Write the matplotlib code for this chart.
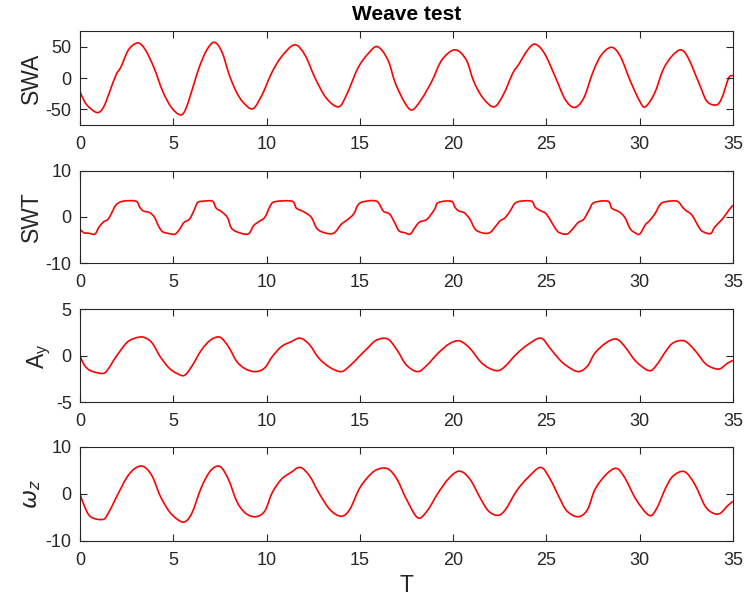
import matplotlib
matplotlib.use("Agg")
import matplotlib.pyplot as plt
import numpy as np
from matplotlib.path import Path
from matplotlib.patches import PathPatch

plt.rcParams["font.family"] = ["Liberation Sans", "DejaVu Sans"]
plt.rcParams["axes.unicode_minus"] = False

# SWA, steering wheel angle
t_swa = [0, 0.34, 0.9, 1.25, 1.6, 1.93, 2.2, 2.6, 3.1, 3.5, 3.97, 4.43, 4.9, 5.4, 5.7,
         6.1, 6.4, 6.8, 7.2, 7.6, 8.0, 8.36, 8.75, 9.27, 9.77, 10.27, 10.8, 11.5, 12.05,
         12.6, 13.2, 13.86, 14.3, 14.9, 15.45, 15.95, 16.5, 16.9, 17.4, 17.8, 18.3, 18.86,
         19.4, 20.1, 20.7, 21.1, 21.6, 22.2, 22.7, 23.2, 23.5, 24.0, 24.4, 24.9, 25.5,
         26.0, 26.5, 27.0, 27.5, 27.95, 28.5, 28.97, 29.5, 30.0, 30.3, 30.8, 31.25, 31.7,
         32.2, 32.6, 33.2, 33.6, 34.1, 34.4, 34.77, 35.0]
swa = [-22, -42, -55, -47, -21, 5, 18, 45, 56, 45, 16, -21, -47, -59, -47,
       -10, 18, 45, 57, 42, 5, -21, -39, -49, -26, 8, 34, 53, 37,
       0, -32, -46, -26, 16, 39, 50, 29, -8, -39, -51, -34, -5,
       29, 45, 29, -5, -32, -46, -26, 8, 21, 45, 54, 39, 0,
       -34, -47, -32, 10, 37, 49, 34, -5, -37, -46, -24, 13, 34,
       45, 32, -10, -37, -43, -32, 0, 4]

# SWT, steering wheel torque
t_swt = [0, 0.2, 0.45, 0.8, 1.0, 1.25, 1.5, 1.7, 1.93, 2.3, 3.0, 3.2, 3.4, 3.75, 4.0,
         4.2, 4.43, 4.8, 5.1, 5.35, 5.57, 5.86, 6.1, 6.3, 6.6, 7.1, 7.3, 7.6, 7.9,
         8.1, 8.4, 9.0, 9.3, 9.55, 9.9, 10.2, 10.45, 11.36, 11.6, 12.0, 12.4, 12.7,
         13.1, 13.6, 14.0, 14.3, 14.66, 14.9, 15.2, 15.9, 16.25, 16.6, 16.86, 17.1,
         17.4, 17.7, 17.95, 18.2, 18.6, 19.0, 19.2, 19.9, 20.1, 20.3, 20.6, 20.9,
         21.25, 21.9, 22.3, 22.5, 22.8, 23.1, 23.3, 23.6, 24.2, 24.4, 24.7, 25.0,
         25.5, 25.7, 26.1, 26.4, 26.7, 27.0, 27.3, 27.55, 28.3, 28.5, 28.9, 29.2,
         29.5, 29.75, 30.0, 30.3, 30.5, 30.8, 31.1, 31.4, 32.0, 32.3, 32.5, 32.8,
         33.2, 33.4, 33.8, 34.0, 34.3, 34.5, 34.8, 35.0]
swt = [-2.6, -3.4, -3.5, -3.7, -2.3, -1.1, -0.5, 0.9, 2.6, 3.4, 3.4, 2.1, 1.3, 0.9, -0.1,
       -1.9, -3.2, -3.6, -3.7, -2.6, -1.2, -0.5, 1.3, 3.1, 3.4, 3.4, 1.9, 1.1, -0.1,
       -2.3, -3.2, -3.7, -1.9, -1.1, -0.1, 2.4, 3.3, 3.4, 1.9, 1.1, -0.1, -2.5,
       -3.4, -3.5, -1.6, -0.7, 0.6, 2.6, 3.3, 3.4, 1.3, 0.6, -1.2, -3.0,
       -3.4, -3.7, -2.3, -1.1, -0.5, 1.6, 3.1, 3.4, 2.1, 1.3, 0.9, -0.5,
       -2.9, -3.5, -1.9, -0.9, -0.1, 1.6, 2.9, 3.4, 3.4, 2.1, 1.3, 0.6,
       -2.6, -3.4, -3.7, -2.6, -1.2, -0.5, 1.6, 3.1, 3.4, 1.9, 1.1, -0.1,
       -2.6, -3.4, -3.7, -1.7, -0.9, 0.6, 2.7, 3.3, 3.4, 2.1, 1.3, 0.4,
       -2.4, -3.2, -3.6, -2.3, -1.0, -0.1, 1.6, 2.5]

# lateral acceleration and yaw rate share the same time points
t_dyn = [0, 0.23, 0.57, 1.2, 1.48, 1.93, 2.5, 2.95, 3.4, 3.86, 4.3, 4.77, 5.2, 5.6, 6.0,
         6.5, 7.0, 7.5, 7.95, 8.4, 8.86, 9.4, 9.9, 10.3, 10.8, 11.3, 11.8, 12.3, 12.8,
         13.4, 14.0, 14.45, 14.95, 15.4, 15.9, 16.5, 17.0, 17.5, 18.1, 18.6, 19.2,
         19.8, 20.35, 20.9, 21.45, 21.9, 22.4, 22.8, 23.4, 24.0, 24.7, 25.2, 25.7,
         26.1, 26.7, 27.2, 27.6, 28.2, 28.75, 29.2, 29.8, 30.5, 30.9, 31.4, 31.8,
         32.4, 32.95, 33.5, 33.92, 34.3, 34.7, 35.0]
ay = [0, -1.0, -1.6, -1.9, -1.5, -0.1, 1.4, 1.9, 2.0, 1.4, -0.1, -1.3, -1.9, -2.1, -1.1,
      0.6, 1.7, 2.0, 1.0, -0.6, -1.4, -1.7, -1.3, -0.1, 1.0, 1.5, 1.9, 1.2, -0.25,
      -1.25, -1.7, -1.1, -0.1, 0.8, 1.7, 1.8, 0.6, -1.0, -1.7, -1.0, 0.3,
      1.3, 1.6, 0.8, -0.6, -1.3, -1.6, -1.1, 0.2, 1.2, 1.9, 0.8, -0.4,
      -1.1, -1.7, -1.1, 0.3, 1.4, 1.8, 1.0, -0.6, -1.6, -1.0, 0.5, 1.4,
      1.6, 0.6, -0.8, -1.3, -1.4, -0.8, -0.5]
wz = [0, -2.6, -4.9, -5.5, -4.4, -0.9, 3.4, 5.4, 5.8, 3.8, -0.5, -3.7, -5.4, -6.0, -4.1,
      1.3, 4.9, 5.8, 3.1, -1.6, -4.1, -4.9, -3.7, 0.2, 3.1, 4.5, 5.6, 3.8, 0.2,
      -3.4, -4.8, -3.4, 0.9, 3.4, 5.1, 5.3, 3.0, -1.2, -5.1, -3.7, 0.2,
      3.4, 4.8, 3.1, -0.9, -3.7, -4.6, -3.4, 0.6, 3.4, 5.6, 3.1, -0.9,
      -3.7, -4.9, -3.4, 0.9, 4.1, 5.4, 3.4, -1.2, -4.6, -3.2, 1.3, 3.8,
      4.7, 2.0, -2.6, -4.1, -4.2, -2.6, -1.6]

series = [(t_swa, swa, "SWA", (-75, 75), [-50, 0, 50]),
          (t_swt, swt, "SWT", (-10, 10), [-10, 0, 10]),
          (t_dyn, ay, r"A$_\mathregular{y}$", (-5, 5), [-5, 0, 5]),
          (t_dyn, wz, r"$\omega_z$", (-10, 10), [-10, 0, 10])]

# axes boxes measured in pixels (left, bottom, width, height) / figure size
boxes = [(0.1074, 0.792, 0.8765, 0.1564),
         (0.1074, 0.562, 0.8765, 0.1540),
         (0.1074, 0.3306, 0.8765, 0.1547),
         (0.1074, 0.1003, 0.8765, 0.1564)]


def smooth_line(ax, t, v, **kw):
    # draw the read points as one curve (bezier segments through every point)
    p = np.column_stack([t, v]).astype(float)
    n = len(p)
    verts = [p[0]]
    codes = [Path.MOVETO]
    for i in range(n - 1):
        p0 = p[max(i - 1, 0)]
        p1 = p[i]
        p2 = p[i + 1]
        p3 = p[min(i + 2, n - 1)]
        verts += [p1 + (p2 - p0) / 6, p2 - (p3 - p1) / 6, p2]
        codes += [Path.CURVE4] * 3
    ax.add_patch(PathPatch(Path(verts, codes), fill=False, **kw))


fig = plt.figure(figsize=(7.45, 6.01), dpi=100)
grey = "#262626"
for (t, v, lab, lim, yt), box in zip(series, boxes):
    ax = fig.add_axes(box)
    smooth_line(ax, t, v, edgecolor="red", lw=1.2)
    ax.set_xlim(0, 35)
    ax.set_ylim(*lim)
    ax.set_xticks(range(0, 36, 5))
    ax.set_yticks(yt)
    ax.tick_params(direction="in", top=True, right=True, length=5, width=0.8,
                   labelsize=13, colors=grey)
    ax.tick_params(axis="x", pad=8)
    ax.tick_params(axis="y", pad=6)
    for s in ax.spines.values():
        s.set_color(grey)
        s.set_linewidth(0.8)
    ax.set_ylabel(lab, fontsize=16.5, color=grey, labelpad=2)
    if lab == "SWA":
        ax.set_title("Weave test", fontsize=15, fontweight="bold", pad=8)
    if lab.startswith(r"$\omega"):
        ax.set_xlabel("T", fontsize=16.5, color=grey, labelpad=4)

fig.savefig("out.png", dpi=100)
